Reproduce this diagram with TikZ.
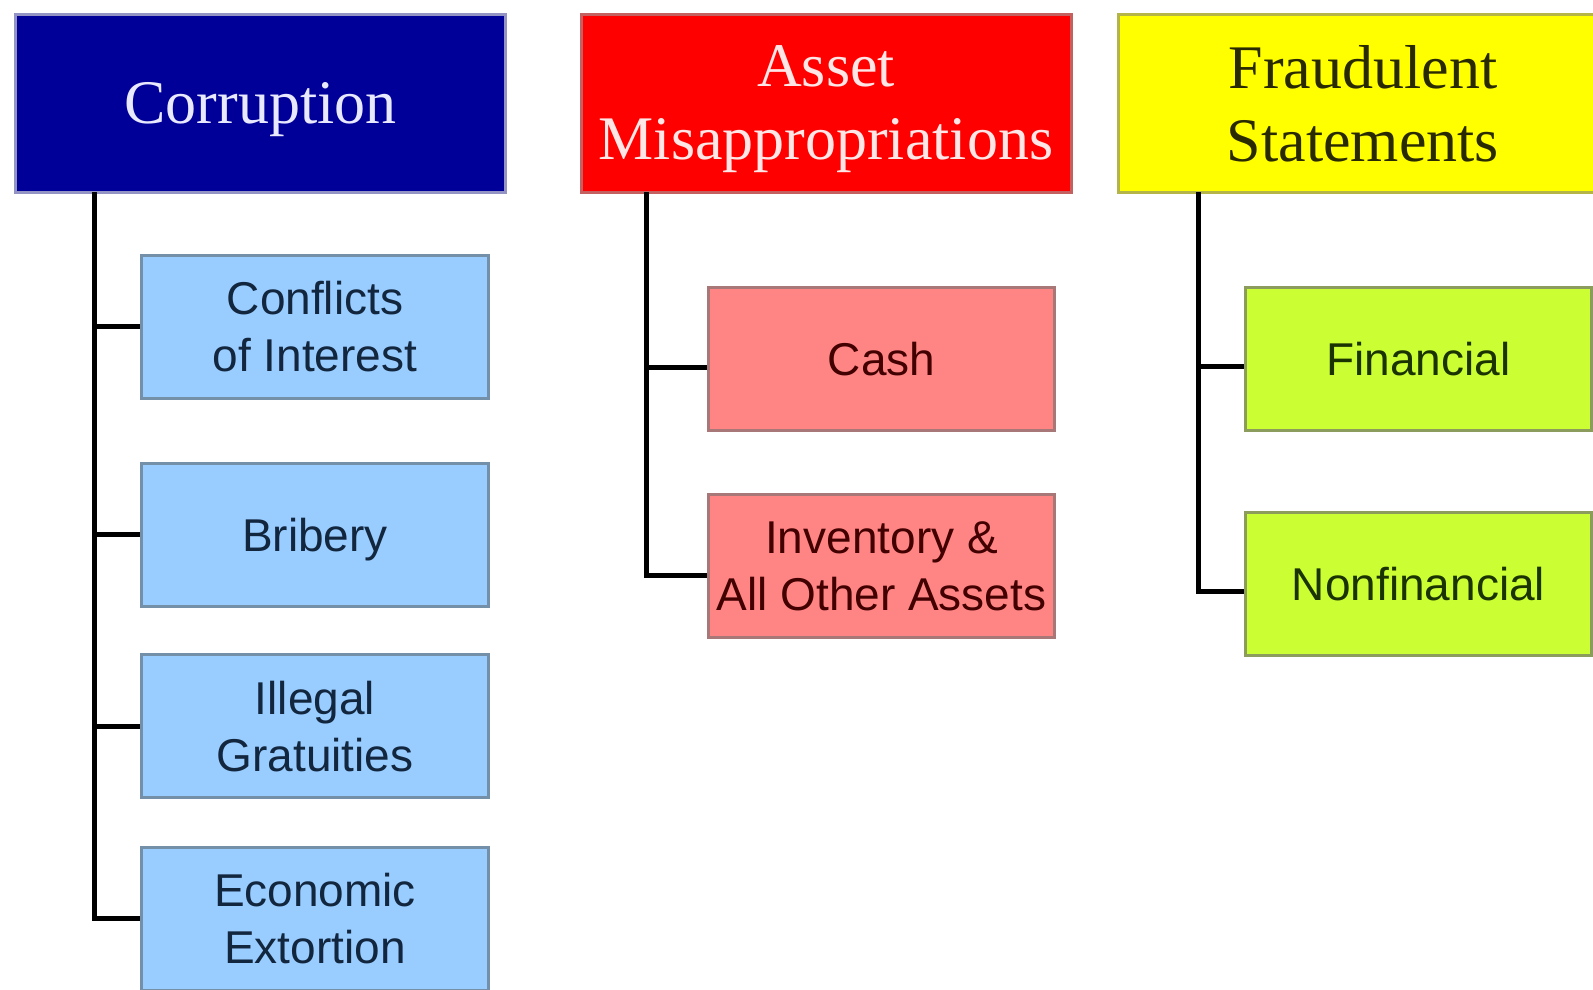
\documentclass[tikz,border=0pt]{standalone}
\usepackage{fontspec}
\setmainfont{Liberation Serif}
\setsansfont{Liberation Sans}
\usetikzlibrary{calc}

\definecolor{corrfill}{HTML}{000099}
\definecolor{corrline}{HTML}{9494C4}
\definecolor{corrtext}{HTML}{E8E8FF}
\definecolor{assetfill}{HTML}{FF0000}
\definecolor{assetline}{HTML}{C46060}
\definecolor{assettext}{HTML}{FFE6E6}
\definecolor{fraudfill}{HTML}{FFFF00}
\definecolor{fraudline}{HTML}{B4B448}
\definecolor{fraudtext}{HTML}{2A2A00}
\definecolor{leafblue}{HTML}{99CCFF}
\definecolor{leafblueline}{HTML}{7490A8}
\definecolor{leafbluetext}{HTML}{12263E}
\definecolor{leafpink}{HTML}{FF8585}
\definecolor{leafpinkline}{HTML}{A87878}
\definecolor{leafpinktext}{HTML}{420000}
\definecolor{leaflime}{HTML}{CCFF33}
\definecolor{leaflimeline}{HTML}{8C9C5C}
\definecolor{leaflimetext}{HTML}{1A3300}

\tikzset{
    head/.style={draw, line width=3bp, minimum width=490bp, minimum height=178bp,
        inner sep=0pt, text depth=0pt, align=center, font=\fontsize{62bp}{73bp}\selectfont},
    leaf/.style={draw, line width=3bp, minimum width=346bp, minimum height=143bp,
        inner sep=0pt, text depth=0pt, align=center, font=\sffamily\fontsize{46bp}{57bp}\selectfont},
    link/.style={line width=5bp, black}
}

\begin{document}
\begin{tikzpicture}[x=1bp,y=-1bp]
        \useasboundingbox (0,0) rectangle (1593,989);
        \node[head, fill=corrfill, draw=corrline, text=corrtext] (corr) at (260.5,103) {Corruption};
        \node[head, fill=assetfill, draw=assetline, text=assettext] (asset) at (826,103) {Asset\\Misappropriations};
        \node[head, fill=fraudfill, draw=fraudline, text=fraudtext] (fraud) at (1363,103) {Fraudulent\\Statements};
        \foreach \n/\y/\t in {coi/326.5/{Conflicts\\of Interest}, bri/534.5/{Bribery},
                ill/726/{Illegal\\Gratuities}, ext/918.5/{Economic\\Extortion}}{
            \node[leaf, fill=leafblue, draw=leafblueline, text=leafbluetext] (\n) at (315,\y) {\t};
        }
        \foreach \n/\y/\t in {cash/358.5/{Cash}, inv/566/{Inventory \&\\All Other Assets}}{
            \node[leaf, fill=leafpink, draw=leafpinkline, text=leafpinktext] (\n) at (881.5,\y) {\t};
        }
        \foreach \n/\y/\t in {fin/358.5/{Financial}, nonfin/583.5/{Nonfinancial}}{
            \node[leaf, fill=leaflime, draw=leaflimeline, text=leaflimetext] (\n) at (1418.5,\y) {\t};
        }
        \coordinate (corrtop) at (94,192);
        \coordinate (assettop) at (646,192);
        \coordinate (fraudtop) at (1198,192);
        \foreach \n in {coi,bri,ill,ext}{
            \draw[link] (corrtop) |- (\n.west);
        }
        \foreach \n in {cash,inv}{
            \draw[link] (assettop) |- ([yshift=-9bp]\n.west);
        }
        \foreach \n in {fin,nonfin}{
            \draw[link] (fraudtop) |- ([yshift=-8bp]\n.west);
        }
    \end{tikzpicture}
\end{document}
